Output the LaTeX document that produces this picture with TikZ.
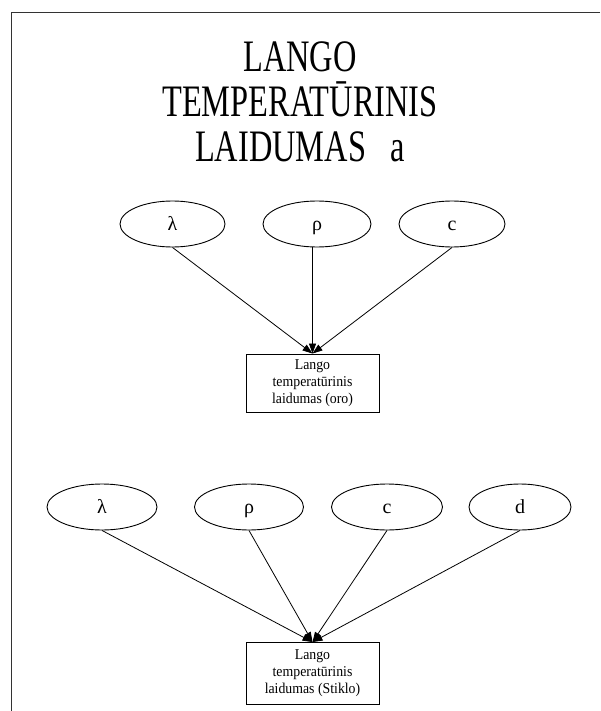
\documentclass[tikz,border=0pt]{standalone}
\usepackage{fontspec}
\setmainfont{Liberation Serif}
\usetikzlibrary{arrows.meta,shapes.geometric}
\begin{document}
\begin{tikzpicture}[x=1pt,y=-1pt,
  oval/.style={draw,ellipse,line width=0.9pt,minimum height=46pt,inner sep=0pt,text height=12pt,text depth=0pt,font=\fontsize{20}{22}\selectfont},
  resbox/.style={draw,rectangle,line width=0.9pt,minimum width=133pt,inner sep=0pt,align=center,font=\fontsize{15}{17}\selectfont},
  conn/.style={line width=0.8pt,-{Triangle[length=10pt,width=7pt]}},
  frameline/.style={line width=1.4pt,draw=black!80}]
\useasboundingbox (0,0) rectangle (600,711);
\draw[frameline] (600,12.5) -- (11.5,12.5) -- (11.5,711);
\node (title) at (300,102) [align=center,font=\fontsize{45}{45}\selectfont] {\scalebox{0.72}[1]{LANGO}\\\scalebox{0.72}[1]{TEMPERATŪRINIS}\\\scalebox{0.72}[1]{LAIDUMAS\ \ \ a}};
% top group
\node[oval,minimum width=105pt] (l1) at (172.5,224) {λ};
\node[oval,minimum width=108pt] (r1) at (317,224) {ρ};
\node[oval,minimum width=106pt] (c1) at (452,224) {c};
\node[resbox,minimum height=58pt] (b1) at (312.5,383) {\scalebox{0.92}[1]{Lango}\\\scalebox{0.92}[1]{temperatūrinis}\\\scalebox{0.92}[1]{laidumas (oro)}};
\draw[conn] (l1.south) -- (b1.north);
\draw[conn] (b1.north |- r1.south) -- (b1.north);
\draw[conn] (c1.south) -- (b1.north);
% bottom group
\node[oval,minimum width=110pt] (l2) at (102,507) {λ};
\node[oval,minimum width=109pt] (r2) at (249,507) {ρ};
\node[oval,minimum width=111pt] (c2) at (387,507) {c};
\node[oval,minimum width=102pt] (d2) at (520,507) {d};
\node[resbox,minimum height=62pt] (b2) at (312.5,673.5) {\scalebox{0.92}[1]{Lango}\\\scalebox{0.92}[1]{temperatūrinis}\\\scalebox{0.92}[1]{laidumas (Stiklo)}};
\draw[conn] (l2.south) -- (b2.north);
\draw[conn] (r2.south) -- (b2.north);
\draw[conn] (c2.south) -- (b2.north);
\draw[conn] (d2.south) -- (b2.north);
\end{tikzpicture}
\end{document}
